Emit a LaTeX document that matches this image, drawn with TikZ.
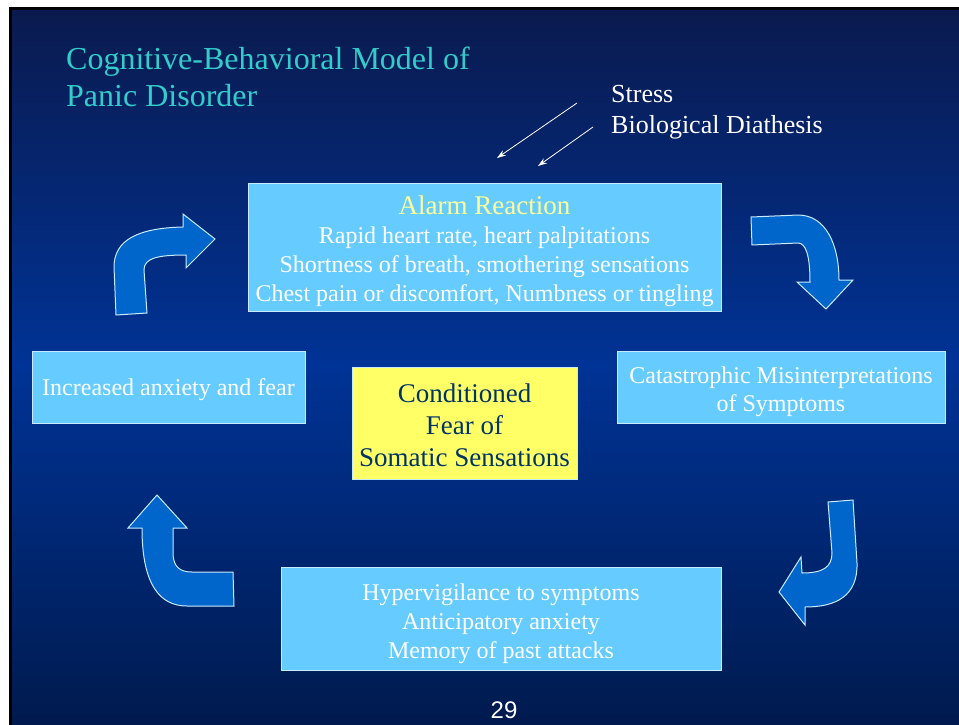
\documentclass[tikz,border=0pt]{standalone}
\usepackage{fontspec}
\setmainfont{Liberation Serif}
\newfontfamily\pagenumfont{Liberation Sans}
\usetikzlibrary{arrows.meta, positioning}
\definecolor{slidetop}{RGB}{10,26,78}
\definecolor{slidemid}{RGB}{0,51,150}
\definecolor{slidebot}{RGB}{0,26,78}
\definecolor{boxblue}{RGB}{102,204,255}
\definecolor{boxedge}{RGB}{200,235,255}
\definecolor{titlecyan}{RGB}{51,204,204}
\definecolor{alarmyellow}{RGB}{255,255,153}
\definecolor{fearyellow}{RGB}{255,255,102}
\definecolor{fearnavy}{RGB}{0,51,102}
\definecolor{turnblue}{RGB}{0,102,204}
\newcommand{\topgap}[1]{\rule{0pt}{#1}}
\begin{document}
\begin{tikzpicture}[x=1pt, y=-1pt,
    panelbox/.style={draw=boxedge, line width=1pt, fill=boxblue, text=white,
      align=center, inner sep=0pt, font=\fontsize{24}{29}\selectfont},
    turnarrow/.style={draw=boxedge, line width=1pt, fill=turnblue},
    cuearrow/.style={draw=white, line width=0.8pt, -{Stealth[length=9pt,width=6pt]}}]
  \useasboundingbox (0,0) rectangle (959,724);
  % Slide background
  \shade[top color=slidetop, bottom color=slidebot, middle color=slidemid]
    (10,8) rectangle (959,724);
  \draw[black, line width=3pt] (10,730) -- (10,8) -- (965,8);
  % Title
  \node[anchor=north west, inner sep=0pt, align=left, text=titlecyan,
        font=\fontsize{32}{37}\selectfont] (title) at (66,46.5)
    {Cognitive-Behavioral Model of\\Panic Disorder};
  % Triggers
  \node[anchor=north west, inner sep=0pt, align=left, text=white,
        font=\fontsize{26}{31.5}\selectfont] (triggers) at (611,85)
    {Stress\\Biological Diathesis};
  \coordinate (stressfrom) at (577,103);
  \coordinate (stressto) at (497,158);
  \coordinate (diathfrom) at (593,127);
  \coordinate (diathto) at (538,166);
  \draw[cuearrow] (stressfrom) -- (stressto);
  \draw[cuearrow] (diathfrom) -- (diathto);
  % Alarm reaction box
  \node[panelbox, minimum width=473, minimum height=128] (alarm) at (484.5,247)
    {\topgap{27.5pt}{\fontsize{27}{29}\selectfont\color{alarmyellow}Alarm Reaction}\\
     Rapid heart rate, heart palpitations\\
     Shortness of breath, smothering sensations\\
     Chest pain or discomfort, Numbness or tingling};
  % Side boxes
  \node[panelbox, minimum width=273, minimum height=72] (anxiety) at (168.5,387)
    {\topgap{22.5pt}Increased anxiety and fear};
  \node[panelbox, minimum width=328, minimum height=72,
        font=\fontsize{24}{28}\selectfont] (misread) at (781,387)
    {\topgap{26.5pt}Catastrophic Misinterpretations\\of Symptoms};
  \node[panelbox, minimum width=440, minimum height=103] (vigil) at (501,618.5)
    {\topgap{26.5pt}Hypervigilance to symptoms\\Anticipatory anxiety\\Memory of past attacks};
  % Centre box
  \node[panelbox, fill=fearyellow, text=fearnavy, minimum width=225,
        minimum height=112, font=\fontsize{27}{32}\selectfont] (fear) at (464.5,423)
    {\topgap{22.5pt}Conditioned\\Fear of\\Somatic Sensations};
  % Curved block arrows
  \draw[turnarrow] (116,315) -- (114,267) .. controls (114,240) and (138,228) .. (183,227)
    -- (183,214) -- (215,239) -- (186,268) -- (186,255)
    .. controls (158,255) and (144,258) .. (144,270) -- (147,313) -- cycle;
  \draw[turnarrow] (751,217) -- (798,215) .. controls (826,215) and (839,245) .. (839,280)
    -- (853,280) -- (826,309) -- (797,282) -- (810,282)
    .. controls (810,256) and (806,243) .. (798,243) -- (752,245) -- cycle;
  \draw[turnarrow] (828,502) -- (853,500) -- (857,563) .. controls (858,596) and (836,607) .. (805,607)
    -- (805,625) -- (779,592) -- (801,557) -- (802,573)
    .. controls (823,573) and (832,567) .. (832,553) -- cycle;
  \draw[turnarrow] (233,572) -- (234,606) -- (187,606) .. controls (160,606) and (142,585) .. (142,528)
    -- (128,528) -- (157,495) -- (187,528) -- (173,528) -- (173,555)
    .. controls (174,567) and (180,572) .. (192,572) -- cycle;
  % Slide number
  \node[text=white, inner sep=0pt, font=\pagenumfont\fontsize{24}{28}\selectfont]
    (pagenum) at (504,710) {29};
\end{tikzpicture}
\end{document}
